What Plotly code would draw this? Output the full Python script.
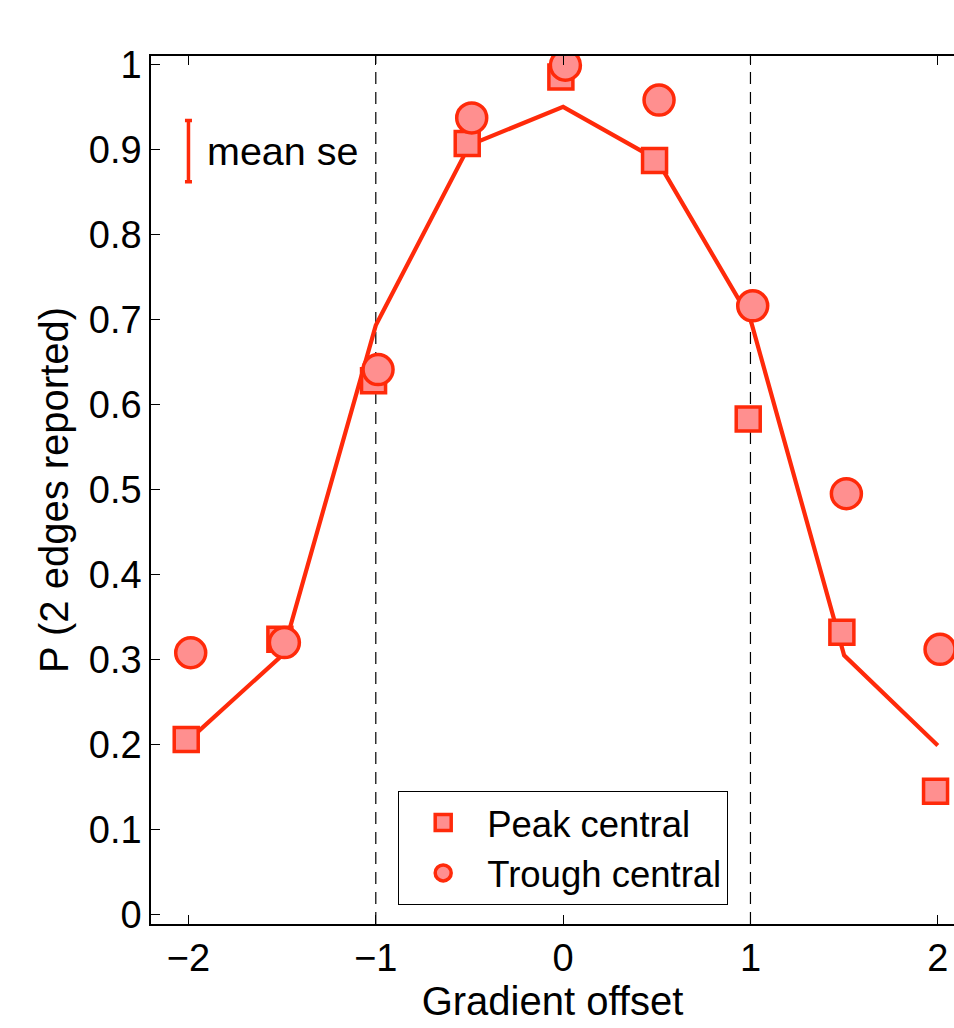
import plotly.graph_objects as go

# Gradient offsets tested
offsets = [-2, -1.5, -1, -0.5, 0, 0.5, 1, 1.5, 2]

# Proportion of trials on which two edges were reported
peak_central = [0.206, 0.324, 0.628, 0.907, 0.985, 0.887, 0.583, 0.332, 0.145]
trough_central = [0.308, 0.320, 0.641, 0.937, 0.999, 0.958, 0.716, 0.495, 0.312]

# Model prediction
model_fit = [0.205, 0.305, 0.693, 0.905, 0.950, 0.888, 0.700, 0.305, 0.199]

# Mean standard error, shown as a key bar
mean_se = 0.036
se_bar_x = [-2]
se_bar_y = [0.898]

# Dashed reference offsets
boundaries = [-1, 1]

x_ticks = [-2, -1, 0, 1, 2]
x_tick_text = ["\u22122", "\u22121", "0", "1", "2"]
y_ticks = [0, 0.1, 0.2, 0.3, 0.4, 0.5, 0.6, 0.7, 0.8, 0.9, 1]
y_tick_text = ["0", "0.1", "0.2", "0.3", "0.4", "0.5", "0.6", "0.7", "0.8", "0.9", "1"]

EDGE = "#ff2a0a"
FILL = "#ff8f8f"
FONT = "Liberation Sans, Arial, sans-serif"
dodge = 0.012

fig = go.Figure()

fig.add_trace(go.Scatter(
    x=offsets, y=model_fit, mode="lines",
    line=dict(color=EDGE, width=4.2), showlegend=False, hoverinfo="skip",
))

fig.add_trace(go.Scatter(
    x=[v - dodge for v in offsets], y=peak_central, mode="markers",
    name="Peak central",
    marker=dict(symbol="square", size=24, color=FILL,
                line=dict(color=EDGE, width=3.5)),
))

fig.add_trace(go.Scatter(
    x=[v + dodge for v in offsets], y=trough_central, mode="markers",
    name="Trough central",
    marker=dict(symbol="circle", size=30, color=FILL,
                line=dict(color=EDGE, width=3.5)),
))

fig.add_trace(go.Scatter(
    x=se_bar_x, y=se_bar_y, mode="markers",
    marker=dict(size=1, color="rgba(0,0,0,0)"),
    error_y=dict(type="constant", value=mean_se, color=EDGE,
                 thickness=3.5, width=3.5),
    showlegend=False, hoverinfo="skip",
))

fig.add_annotation(
    x=-1.91, y=se_bar_y[0], xref="x", yref="y",
    text="mean se", showarrow=False, xanchor="left", yanchor="middle",
    font=dict(family=FONT, size=39.5, color="black"),
)

for b in boundaries:
    fig.add_shape(
        type="line", x0=b, x1=b, y0=0, y1=1, xref="x", yref="paper",
        line=dict(color="black", width=1.2, dash="12px,8px"), layer="below",
    )

fig.update_layout(
    width=954, height=1028,
    margin=dict(l=151, r=0, t=56, b=104),
    paper_bgcolor="white", plot_bgcolor="white",
    font=dict(family=FONT, size=38, color="black"),
    legend=dict(
        x=0.3076, y=0.1532, xanchor="left", yanchor="top",
        bordercolor="black", borderwidth=1.2, bgcolor="white",
        font=dict(family=FONT, size=36.5), itemsizing="trace",
        itemwidth=78, tracegroupgap=0,
    ),
    xaxis=dict(
        range=[-2.2, 2.0865], tickvals=x_ticks, ticktext=x_tick_text,
        ticks="inside", ticklen=9, tickwidth=1.2, tickcolor="black",
        showline=True, linecolor="black", linewidth=1.5, mirror="ticks",
        showgrid=False, zeroline=False,
        title=dict(text="Gradient offset", font=dict(size=40), standoff=2),
        tickfont=dict(size=38),
    ),
    yaxis=dict(
        range=[-0.011, 1.0098], tickvals=y_ticks, ticktext=y_tick_text,
        ticks="inside", ticklen=9, tickwidth=1.2, tickcolor="black",
        showline=True, linecolor="black", linewidth=1.5,
        showgrid=False, zeroline=False,
        title=dict(text="P (2 edges reported)", font=dict(size=40), standoff=8),
        tickfont=dict(size=38),
    ),
)

fig.write_html("out.html")
